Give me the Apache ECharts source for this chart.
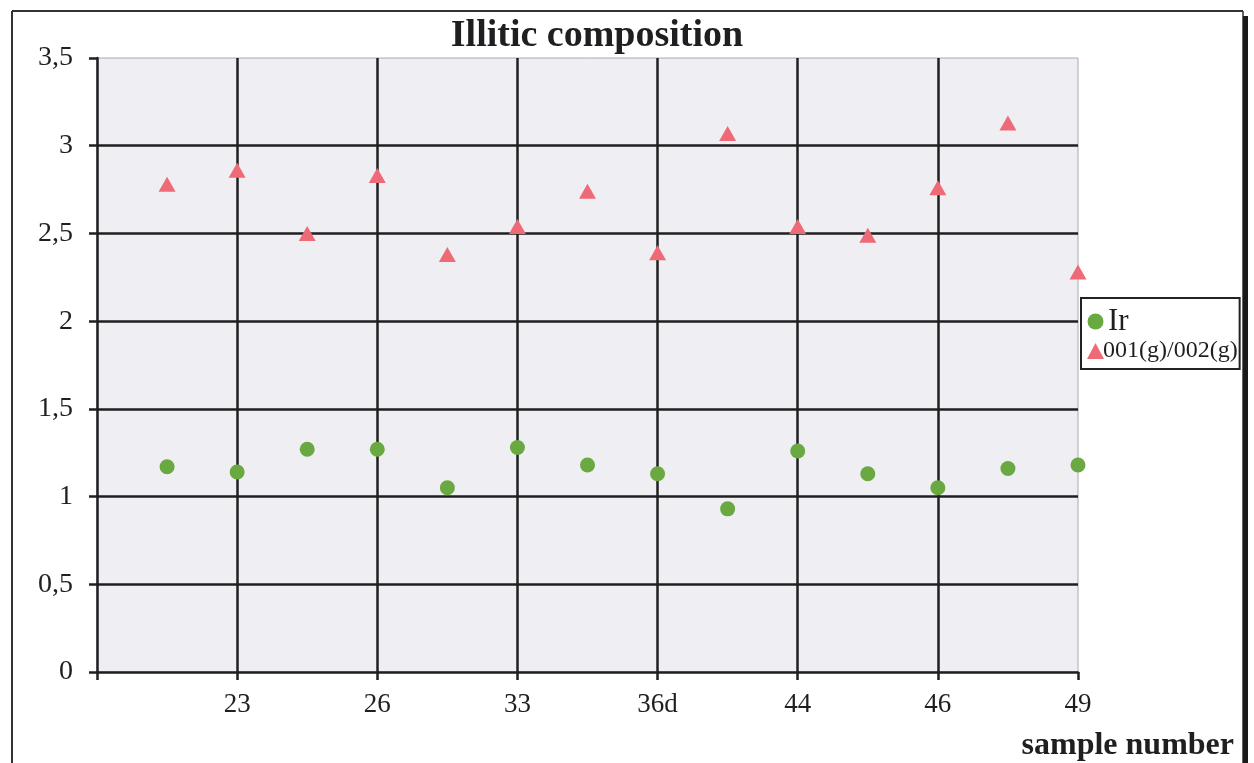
<!DOCTYPE html>
<html>
<head>
<meta charset="utf-8">
<title>Illitic composition</title>
<script src="https://cdn.jsdelivr.net/npm/echarts@6/dist/echarts.min.js"></script>
<style>
  html, body { margin: 0; padding: 0; background: #ffffff; }
  #chart { width: 1254px; height: 763px; }
</style>
</head>
<body>
<div id="chart"></div>
<script>
// Sample labels shown under every second sample position
const tickLabels = ['23', '26', '33', '36d', '44', '46', '49'];
// Ir index per sample (positions 1..14)
const irValues = [1.17, 1.14, 1.27, 1.27, 1.05, 1.28, 1.18, 1.13, 0.93, 1.26, 1.13, 1.05, 1.16, 1.18];
// 001(g)/002(g) ratio per sample
const ratioValues = [2.78, 2.86, 2.50, 2.83, 2.38, 2.54, 2.74, 2.39, 3.07, 2.54, 2.49, 2.76, 3.13, 2.28];

const seriesNames = ['Ir', '001(g)/002(g)'];
const serif = '"Liberation Serif", "Times New Roman", serif';
const ink = '#1f1f22';

const chart = echarts.init(document.getElementById('chart'), null, { renderer: 'canvas' });

const toPoints = arr => arr.map((v, i) => [i + 1, v]);

chart.setOption({
  animation: false,
  backgroundColor: '#ffffff',
  title: {
    text: 'Illitic composition',
    left: 597,
    top: 17,
    padding: 0,
    textAlign: 'center',
    textStyle: { fontFamily: serif, fontWeight: 'bold', fontSize: 38, color: ink }
  },
  grid: {
    left: 97, right: 176, top: 58, bottom: 91,
    show: true,
    backgroundColor: '#efeef3',
    borderColor: '#a9a8b8',
    borderWidth: 1
  },
  legend: {
    orient: 'vertical',
    left: 1081, top: 298,
    padding: [8, 2, 6, 6],
    itemGap: 2,
    itemWidth: 17, itemHeight: 16,
    backgroundColor: '#ffffff',
    borderColor: '#222',
    borderWidth: 2,
    borderRadius: 0,
    data: seriesNames,
    formatter: name => name === 'Ir' ? '{big|' + name + '}' : '{small|' + name + '}',
    textStyle: {
      color: ink,
      fontFamily: serif,
      rich: {
        big: { fontSize: 31, lineHeight: 32, fontFamily: serif, color: ink, padding: [0, 0, 0, -1] },
        small: { fontSize: 24, lineHeight: 26, fontFamily: serif, color: ink, padding: [0, 0, 0, -6] }
      }
    }
  },
  xAxis: {
    type: 'value',
    min: 0, max: 14, interval: 2,
    axisLine: { show: true, onZero: false, lineStyle: { color: ink, width: 2.5 } },
    axisTick: { show: true, length: 8, inside: false, lineStyle: { color: ink, width: 2.5 } },
    splitLine: { show: true, showMinLine: false, showMaxLine: false, lineStyle: { color: ink, width: 2.5 } },
    axisLabel: {
      margin: 19,
      fontFamily: serif, fontSize: 27, color: ink,
      formatter: v => v === 0 ? '' : (tickLabels[v / 2 - 1] || '')
    }
  },
  yAxis: {
    type: 'value',
    min: 0, max: 3.5, interval: 0.5,
    axisLine: { show: true, lineStyle: { color: ink, width: 2.5 } },
    axisTick: { show: true, length: 8, lineStyle: { color: ink, width: 2.5 } },
    splitLine: { show: true, showMinLine: false, showMaxLine: false, lineStyle: { color: ink, width: 2.5 } },
    axisLabel: {
      margin: 24,
      fontFamily: serif, fontSize: 28, color: ink,
      formatter: v => String(v).replace('.', ',')
    }
  },
  series: [
    {
      name: seriesNames[0],
      type: 'scatter',
      symbol: 'circle',
      symbolSize: 15,
      itemStyle: { color: '#6aa842', opacity: 1 },
      data: toPoints(irValues)
    },
    {
      name: seriesNames[1],
      type: 'scatter',
      symbol: 'triangle',
      symbolSize: [17, 15],
      itemStyle: { color: '#ef6a77', opacity: 1 },
      data: toPoints(ratioValues)
    }
  ],
  graphic: [
    // outer frame of the figure
    { type: 'line', shape: { x1: 12, y1: 11, x2: 1243, y2: 11 }, style: { stroke: '#333', lineWidth: 2 } },
    { type: 'line', shape: { x1: 12, y1: 11, x2: 12, y2: 763 }, style: { stroke: '#333', lineWidth: 2 } },
    { type: 'line', shape: { x1: 1243, y1: 11, x2: 1243, y2: 763 }, style: { stroke: '#333', lineWidth: 1.5 } },
    { type: 'rect', shape: { x: 1243, y: 16, width: 5, height: 747 }, style: { fill: '#1a1a1a' } },
    {
      type: 'text',
      right: 1254 - 1234,
      top: 730,
      style: { text: 'sample number', font: 'bold 32px ' + serif, fill: ink }
    }
  ]
});
</script>
</body>
</html>
